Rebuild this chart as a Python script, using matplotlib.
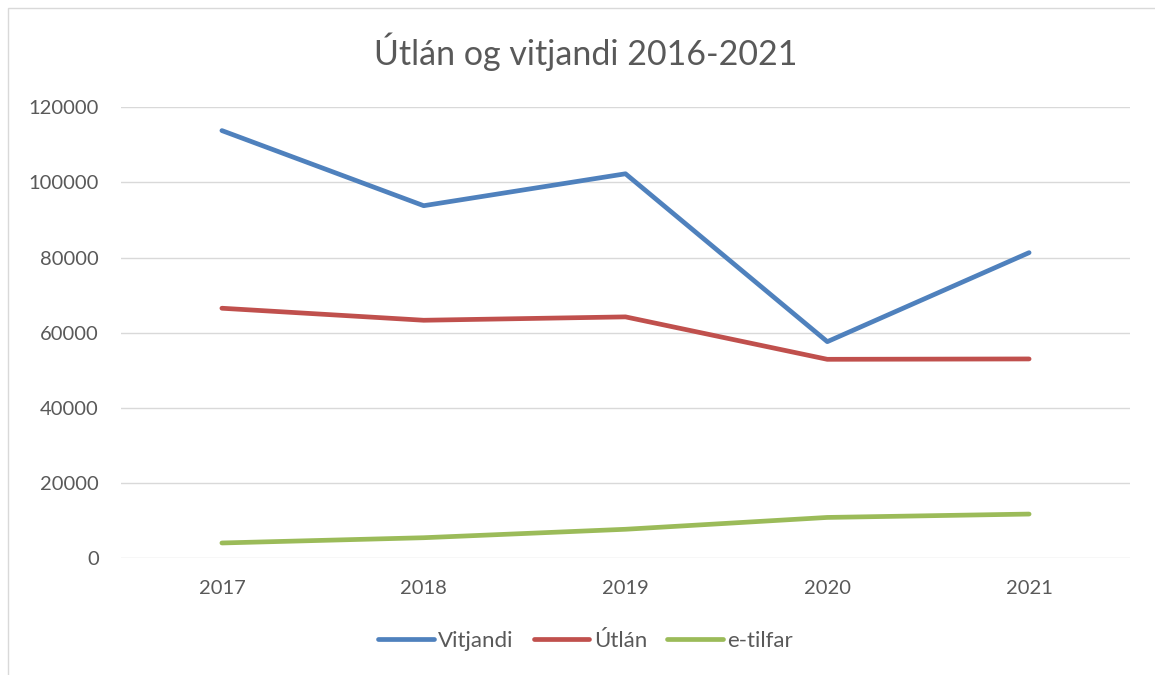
import matplotlib.pyplot as plt
from matplotlib.patches import Rectangle

# Data
years = ['2017', '2018', '2019', '2020', '2021']
vitjandi = [113800, 93800, 102300, 57600, 81300]
utlan = [66500, 63300, 64200, 52900, 53000]
etilfar = [4000, 5400, 7650, 10800, 11700]
yticks = [0, 20000, 40000, 60000, 80000, 100000, 120000]

plt.rcParams['font.family'] = ['Lato', 'DejaVu Sans']
text_col = '#595959'
grid_col = '#D9D9D9'

fig = plt.figure(figsize=(11.55, 6.75), dpi=100)
ax = fig.add_axes([121 / 1155, 1 - 558 / 675, (1130 - 121) / 1155, (558 - 107.3) / 675])

x = range(len(years))
ax.plot(x, vitjandi, color='#4F81BD', lw=3.4, solid_capstyle='round', label='Vitjandi')
ax.plot(x, utlan, color='#C0504D', lw=3.4, solid_capstyle='round', label='Útlán')
ax.plot(x, etilfar, color='#9BBB59', lw=3.4, solid_capstyle='round', label='e-tilfar')

ax.set_xlim(-0.5, len(years) - 0.5)
ax.set_ylim(0, 120000)
ax.set_xticks(list(x))
ax.set_xticklabels(years)
ax.set_yticks(yticks)
ax.set_yticklabels([str(v) for v in yticks])
ax.tick_params(length=0, labelsize=14.5, colors=text_col)
ax.tick_params(axis='x', pad=16)
ax.tick_params(axis='y', pad=16)
ax.grid(axis='y', color=grid_col, lw=1)
ax.set_axisbelow(True)
for s in ax.spines.values():
    s.set_visible(False)

fig.text(0.507, 1 - 52 / 675, 'Útlán og vitjandi 2016-2021', ha='center', va='center',
         fontsize=24.5, color=text_col)

fig.legend(loc='center', bbox_to_anchor=(0.507, 1 - 641 / 675), ncol=3, frameon=False,
           fontsize=16, labelcolor=text_col, handlelength=2.5, handletextpad=0.2,
           columnspacing=0.9)

# outer chart border
fig.patches.append(Rectangle((8 / 1155, -0.02), 1.05, 1 - 8 / 675 + 0.02, transform=fig.transFigure,
                             fill=False, edgecolor=grid_col, lw=1, clip_on=False))

fig.savefig('out.png', dpi=100, facecolor='white')
